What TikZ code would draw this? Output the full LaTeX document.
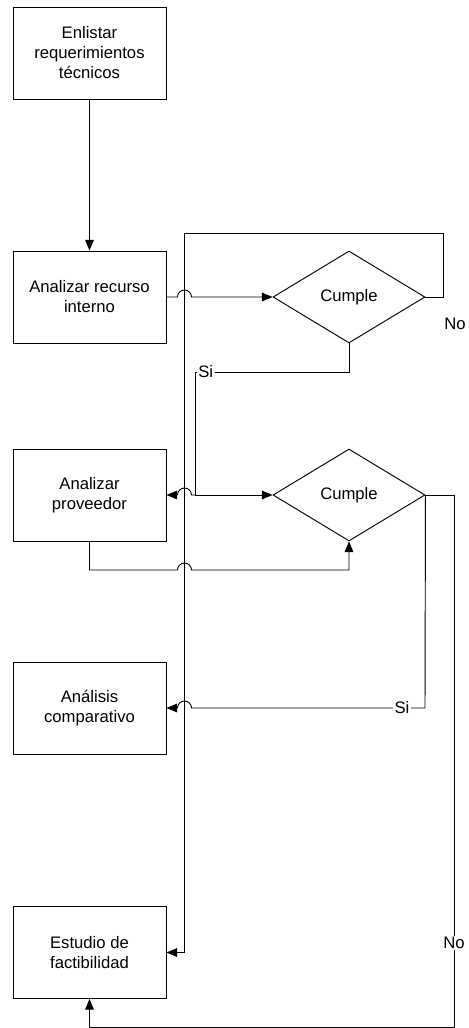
\documentclass[tikz,border=0pt]{standalone}
\usepackage{fontspec}
\setmainfont{Liberation Sans}
\usetikzlibrary{shapes.geometric,arrows.meta}

\begin{document}
\begin{tikzpicture}[x=0.75pt, y=-0.75pt, line width=0.7pt,
    every node/.style = {align=center, font=\fontsize{12.5pt}{15pt}\selectfont},
    caja/.style = {draw, minimum width=114.75pt, minimum height=69pt, inner sep=0pt},
    decision/.style = {draw, diamond, minimum width=114pt, minimum height=69pt, inner sep=0pt},
    flecha/.style = {-{Triangle[length=8pt,width=6.5pt]}},
    etiqueta/.style = {fill=white, inner sep=1pt}]
  \useasboundingbox (0,0) rectangle (468,1028);
  \node[caja] (enlistar) at (89.5,53) {Enlistar\\requerimientos\\técnicos};
  \node[caja] (recurso) at (89.5,297) {Analizar recurso\\interno};
  \node[caja] (proveedor) at (89.5,495) {Analizar\\proveedor};
  \node[caja] (comparativo) at (89.5,708) {Análisis\\comparativo};
  \node[caja] (factibilidad) at (89.5,952.5) {Estudio de\\factibilidad};
  \node[decision] (cumple1) at (349,297) {Cumple};
  \node[decision] (cumple2) at (349,495) {Cumple};
  \coordinate (codo) at (195,372);
  \coordinate (nudo) at (195,495);
  \node at (455,324) {No};
  \draw[flecha] (enlistar) -- (recurso);
  \draw[flecha] (recurso.east) -- (177.5,297) arc[start angle=180, end angle=0, radius=5.25pt] -- (cumple1.west);
  \draw[flecha] (cumple1.east) -- (443,297) -- (443,233) -- (184.5,233) -- (184.5,952.5) -- (factibilidad.east);
  \draw (cumple1.south) |- (codo) node[etiqueta, pos=0.965] {Si} -- (nudo);
  \draw[flecha] (nudo) -- (cumple2.west);
  \draw[flecha] (nudo) -- (191.5,495) arc[start angle=0, end angle=180, radius=5.25pt] -- (proveedor.east);
  \draw[flecha] (proveedor.south) -- (89.5,570) -- (177.5,570) arc[start angle=180, end angle=0, radius=5.25pt] -- (349,570) -- (cumple2.south);
  \draw[flecha] (cumple2.east) -- (425,708) -- (191.5,708) arc[start angle=0, end angle=180, radius=5.25pt] -- (comparativo.east);
  \node[etiqueta] at (402,708) {Si};
  \draw[flecha] (cumple2.east) -- (454,495) -- (454,1027) -- (89.5,1027) -- (factibilidad.south);
  \node[etiqueta] at (454,943) {No};
\end{tikzpicture}
\end{document}
